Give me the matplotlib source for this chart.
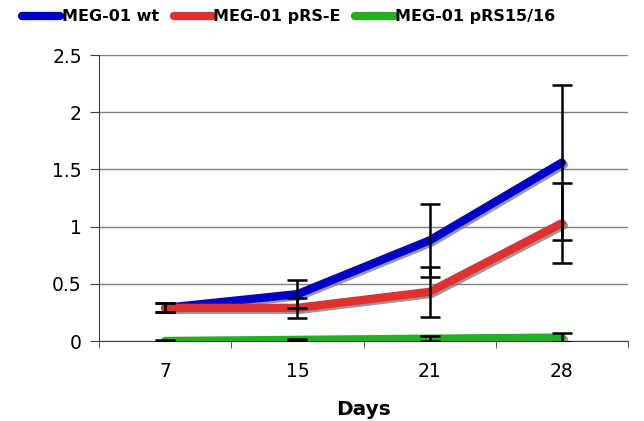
import numpy as np
import matplotlib
matplotlib.use("Agg")
import matplotlib.pyplot as plt
import matplotlib.patheffects as pe

days = ["7", "15", "21", "28"]
wt = [0.29, 0.41, 0.88, 1.56]
wt_err = [0.04, 0.12, 0.32, 0.68]
pe_vals = [0.29, 0.29, 0.43, 1.03]
pe_err = [0.04, 0.09, 0.22, 0.35]
p15 = [0.0, 0.01, 0.02, 0.03]
p15_err = [0.005, 0.01, 0.02, 0.04]

labels = ["MEG-01 wt", "MEG-01 pRS-E", "MEG-01 pRS15/16"]
colors = ["#0000c8", "#e03030", "#20b020"]


def main():
    fig = plt.figure(figsize=(6.44, 4.21), dpi=100)
    ax = fig.add_axes([0.154, 0.19, 0.821, 0.679])
    x = np.arange(len(days))
    shadow = [pe.SimpleLineShadow(offset=(1.5, -1.5), shadow_color="#808080", alpha=0.8), pe.Normal()]

    series = [(wt, wt_err), (pe_vals, pe_err), (p15, p15_err)]
    for (vals, err), lab, c in zip(series, labels, colors):
        ax.plot(x, vals, color=c, lw=6, solid_capstyle="round", label=lab,
                path_effects=shadow, zorder=3)
    for vals, err in series:
        ax.errorbar(x, vals, yerr=err, fmt="none", ecolor="black", elinewidth=1.8,
                    capsize=7, capthick=1.8, zorder=4)

    ax.set_xlim(-0.5, 3.5)
    ax.set_ylim(0, 2.5)
    ax.set_yticks([0, 0.5, 1, 1.5, 2, 2.5])
    ax.set_yticklabels(["0", "0.5", "1", "1.5", "2", "2.5"])
    ax.set_xticks(x)
    ax.set_xticklabels(days)
    ax.set_xticks(np.arange(-0.5, 4, 1), minor=True)
    ax.tick_params(axis="x", which="major", length=0, pad=15, labelsize=13.5)
    ax.tick_params(axis="x", which="minor", length=5, direction="out", color="#404040")
    ax.tick_params(axis="y", length=6.5, color="#404040", labelsize=13.5, pad=6)
    ax.grid(axis="y", color="#808080", lw=1)
    ax.set_axisbelow(True)
    for s in ["top", "right"]:
        ax.spines[s].set_visible(False)
    ax.spines["left"].set_color("#404040")
    ax.spines["bottom"].set_color("#404040")
    ax.set_xlabel("Days", fontsize=14.5, fontweight="bold", labelpad=14)

    leg_handles = [plt.Line2D([], [], color=c, lw=6, solid_capstyle="round") for c in colors]
    fig.legend(leg_handles, labels, loc="upper left", bbox_to_anchor=(0.012, 1.012), ncol=3,
               frameon=False, handlelength=2.4, handletextpad=0.1, columnspacing=0.9,
               prop={"weight": "bold", "size": 11.5})

    fig.savefig("out.png", dpi=100)


if __name__ == "__main__":
    main()
